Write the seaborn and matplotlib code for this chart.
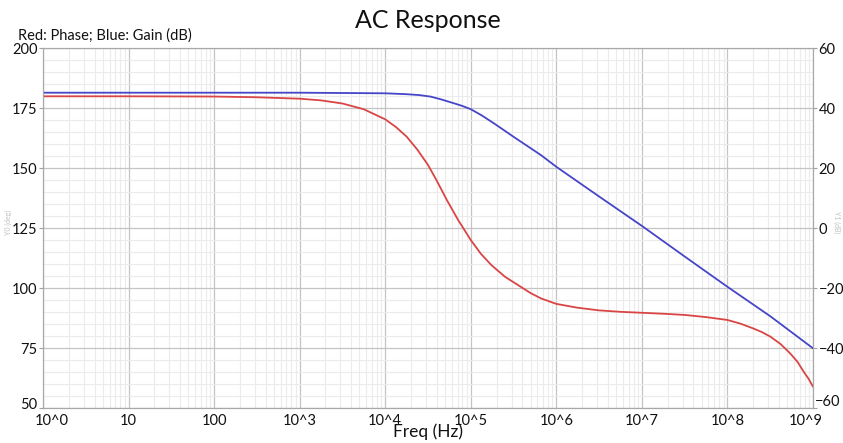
import numpy as np
import pandas as pd
import matplotlib
matplotlib.use("Agg")
import matplotlib.pyplot as plt
import matplotlib.transforms as mtransforms
import seaborn as sns
from matplotlib.ticker import MultipleLocator, LogLocator, NullFormatter

# ---- data (frequency given as log10(Hz)) ----
phase_log10_freq = [0, 1, 2, 2.5, 3, 3.25, 3.5, 3.75, 4.0, 4.125, 4.25, 4.375, 4.5, 4.6,
                    4.72, 4.85, 5.0, 5.12, 5.24, 5.4, 5.55, 5.7, 5.82, 6.0, 6.25, 6.5,
                    6.75, 7.0, 7.25, 7.5, 7.75, 8.0, 8.15, 8.3, 8.4, 8.5, 8.62, 8.73,
                    8.82, 8.89, 8.95, 9.0]
phase_deg = [180.0, 180.0, 179.9, 179.6, 179.0, 178.3, 177.0, 174.6, 170.4, 167.2, 163.2,
             157.8, 151.4, 145.0, 136.8, 128.6, 120.1, 114.3, 109.7, 104.8, 101.4, 98.0,
             95.8, 93.5, 91.9, 90.8, 90.2, 89.8, 89.4, 88.9, 88.0, 86.8, 85.3, 83.3,
             81.8, 79.9, 76.8, 73.0, 69.3, 65.3, 62.2, 59.0]

gain_log10_freq = [0, 1, 2, 3, 4.0, 4.25, 4.4, 4.53, 4.65, 4.8, 4.9, 5.0, 5.13, 5.27, 5.5,
                   5.82, 6.0, 6.5, 7.0, 7.5, 8.0, 8.5, 9.0]
gain_db = [45.2, 45.2, 45.2, 45.2, 45.0, 44.7, 44.4, 43.9, 43.0, 41.7, 40.8, 39.7, 37.6, 35.0,
           30.5, 24.4, 20.5, 10.6, 0.8, -9.4, -19.5, -29.3, -40.0]

x_ticks = [1, 10, 100, 1e3, 1e4, 1e5, 1e6, 1e7, 1e8, 1e9]
x_tick_labels = ["10^0", "10", "100", "10^3", "10^4", "10^5", "10^6", "10^7", "10^8", "10^9"]
left_ticks = [50, 75, 100, 125, 150, 175, 200]
right_ticks = [-60, -40, -20, 0, 20, 40, 60]

phase_df = pd.DataFrame({"freq": np.power(10.0, phase_log10_freq), "phase": phase_deg})
gain_df = pd.DataFrame({"freq": np.power(10.0, gain_log10_freq), "gain": gain_db})

red = "#d94545"
blue = "#4545c8"

sns.set_style("white")
plt.rcParams['font.family'] = ['Lato', 'DejaVu Sans']

W, H = 843, 443
fig = plt.figure(figsize=(W / 100, H / 100), dpi=100)
left, right, top, bottom = 43, 813, 48.3, 408.3
ax = fig.add_axes([left / W, 1 - bottom / H, (right - left) / W, (bottom - top) / H])
ax.set_xscale("log")

sns.lineplot(data=phase_df, x="freq", y="phase", ax=ax, color=red, linewidth=1.3)
ax2 = ax.twinx()
sns.lineplot(data=gain_df, x="freq", y="gain", ax=ax2, color=blue, linewidth=1.3)

ax.set_xlim(1, 1e9)
ax.set_ylim(50, 200)
ax2.set_ylim(-60, 60)

ax.set_xticks(x_ticks)
ax.set_xticklabels(x_tick_labels)
ax.xaxis.set_minor_locator(LogLocator(base=10, subs=np.arange(2, 10), numticks=30))
ax.xaxis.set_minor_formatter(NullFormatter())
ax.set_yticks(left_ticks)
ax.yaxis.set_minor_locator(MultipleLocator(5))
ax2.set_yticks(right_ticks)
ax2.yaxis.set_minor_locator(MultipleLocator(4))

ax.grid(which="major", color="#c4c4c4", linewidth=0.9)
ax.grid(which="minor", color="#ebebeb", linewidth=0.8)
ax.set_axisbelow(True)

for a in (ax, ax2):
    for s in a.spines.values():
        s.set_color("#a8a8a8")
        s.set_linewidth(0.8)
    a.tick_params(which="major", length=3, width=0.8, color="#a0a0a0",
                  labelsize=10.5, pad=1, labelcolor="#111111")
    a.tick_params(which="minor", length=0)
    a.set_ylabel("")
ax.set_xlabel("")

# keep the end labels inside the frame, as in the reference
xl = ax.get_xticklabels()
xl[0].set_transform(xl[0].get_transform() + mtransforms.ScaledTranslation(0.09, 0, fig.dpi_scale_trans))
xl[-1].set_transform(xl[-1].get_transform() + mtransforms.ScaledTranslation(-0.07, 0, fig.dpi_scale_trans))
yl2 = ax2.get_yticklabels()
yl2[0].set_transform(yl2[0].get_transform() + mtransforms.ScaledTranslation(-0.04, 0.08, fig.dpi_scale_trans))
yl = ax.get_yticklabels()
yl[0].set_transform(yl[0].get_transform() + mtransforms.ScaledTranslation(0, 0.05, fig.dpi_scale_trans))

fig.text(428 / W, 1 - 432 / H, "Freq (Hz)", ha="center", va="center", fontsize=12.5, color="#111111")
fig.text(428 / W, 1 - 21 / H, "AC Response", ha="center", va="center", fontsize=18, color="#111111")
fig.text(18 / W, 1 - 36 / H, "Red: Phase; Blue: Gain (dB)", ha="left", va="center",
         fontsize=10.5, color="#111111")
fig.text(8 / W, 1 - 222 / H, "Y0 (deg)", rotation=90, ha="center", va="center",
         fontsize=5, color="#c0c0c0")
fig.text(837 / W, 1 - 222 / H, "Y1 (dB)", rotation=270, ha="center", va="center",
         fontsize=5, color="#c0c0c0")

fig.savefig("out.png", dpi=100)
